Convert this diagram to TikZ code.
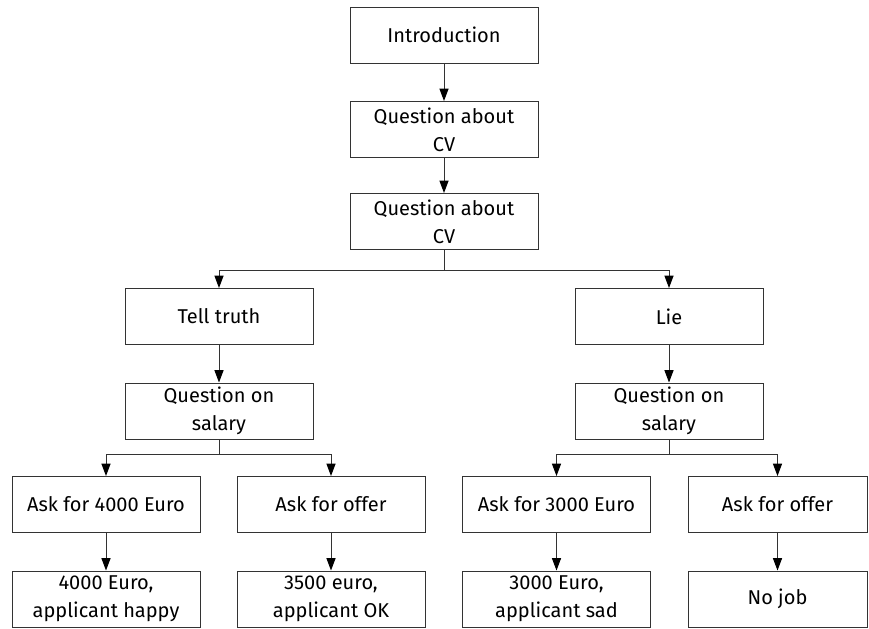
\documentclass[tikz,border=0pt]{standalone}
\usepackage{fontspec}
\setmainfont{Fira Sans}
\usetikzlibrary{arrows.meta}

\begin{document}
\begin{tikzpicture}[x=0.6pt,y=-0.6pt,
 every node/.style={font=\fontsize{12}{16.8}\selectfont},
 box/.style={rectangle,draw=black!80,line width=0.6pt,minimum width=112.8pt,minimum height=33.6pt,align=center,inner sep=0pt},
 narrow/.style={box,minimum width=107.4pt},
 arr/.style={draw=black!80,line width=0.6pt,-{Triangle[length=7.5pt,width=5.5pt,black]}},
 wire/.style={draw=black!80,line width=0.6pt}]
\useasboundingbox (0,0) rectangle (869,628);
\node[box] (intro) at (444,35) {Introduction};
\node[box] (cv1) at (444,129.5) {Question about\\CV};
\node[box] (cv2) at (444,221.5) {Question about\\CV};
\node[box] (truth) at (219,316.5) {Tell truth};
\node[box] (lie) at (669,316.5) {Lie};
\node[box] (sal1) at (219,411) {Question on\\salary};
\node[box] (sal2) at (669,411) {Question on\\salary};
\node[box] (ask4) at (106,504.5) {Ask for 4000 Euro};
\node[box] (offer1) at (331,504.5) {Ask for offer};
\node[box] (ask3) at (556.5,504.5) {Ask for 3000 Euro};
\node[narrow] (offer2) at (777.5,504.5) {Ask for offer};
\node[box] (happy) at (106,599) {4000 Euro,\\applicant happy};
\node[box] (ok) at (331,599) {3500 euro,\\applicant OK};
\node[box] (sad) at (556.5,599) {3000 Euro,\\applicant sad};
\node[narrow] (nojob) at (777.5,599) {No job};
\coordinate (s1) at (444,270);
\coordinate (s2) at (219,454);
\coordinate (s3) at (669,454);
\draw[arr] (intro)--(cv1);
\draw[arr] (cv1)--(cv2);
\draw[wire] (cv2)--(s1);
\draw[arr] (s1)-|(truth);
\draw[arr] (s1)-|(lie);
\draw[arr] (truth)--(sal1);
\draw[arr] (lie)--(sal2);
\draw[wire] (sal1)--(s2);
\draw[arr] (s2)-|(ask4);
\draw[arr] (s2)-|(offer1);
\draw[wire] (sal2)--(s3);
\draw[arr] (s3)-|(ask3);
\draw[arr] (s3)-|(offer2);
\draw[arr] (ask4)--(happy);
\draw[arr] (offer1)--(ok);
\draw[arr] (ask3)--(sad);
\draw[arr] (offer2)--(nojob);
\end{tikzpicture}
\end{document}
